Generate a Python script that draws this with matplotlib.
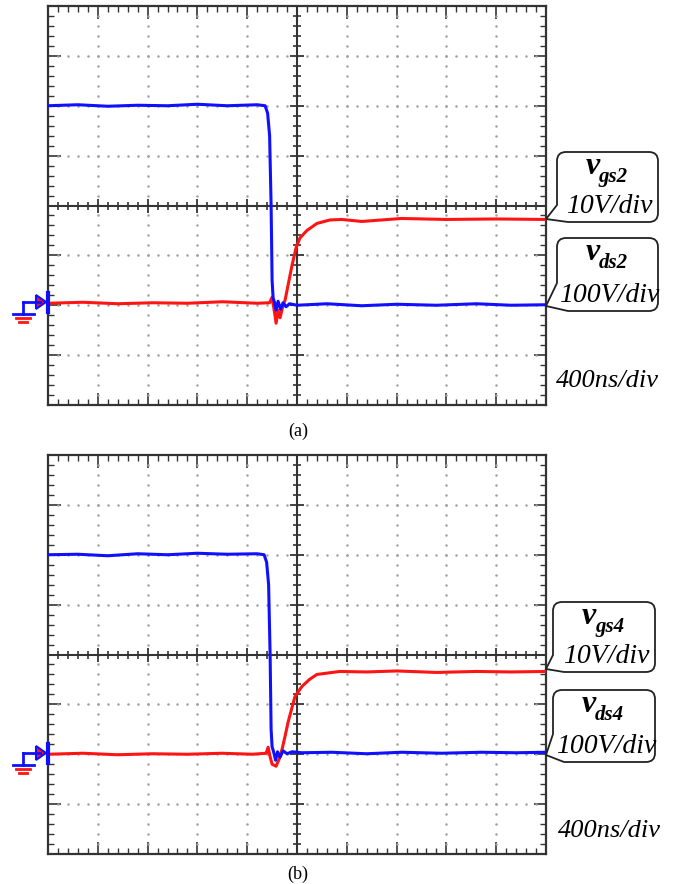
import numpy as np
import matplotlib.pyplot as plt
from matplotlib.path import Path
from matplotlib.patches import PathPatch, Polygon
from matplotlib.lines import Line2D

W, H = 685, 884
SERIF = 'Liberation Serif'
BLUE = '#1010ff'
RED = '#ff1414'

# time in divisions (400 ns/div), level in divisions from screen centre
t_vgs2 = [0, 0.6, 1.2, 1.8, 2.4, 3.0, 3.6, 4.2, 4.36, 4.41, 4.45, 4.48, 4.50, 4.52, 4.55, 4.58,
          4.62, 4.67, 4.72, 4.78, 4.85, 5.0, 5.6, 6.3, 7.0, 7.8, 8.6, 9.3, 10]
v_vgs2 = [2.0, 2.02, 1.99, 2.01, 2.0, 2.03, 2.0, 2.02, 2.0, 1.85, 1.4, 0.0, -1.5, -1.85, -1.95, -2.1,
          -1.92, -2.08, -1.95, -2.03, -1.97, -2.0, -1.97, -2.01, -1.98, -2.0, -1.97, -2.0, -1.99]
t_vds2 = [0, 0.7, 1.4, 2.1, 2.8, 3.5, 4.2, 4.45, 4.50, 4.55, 4.58, 4.62, 4.66, 4.72, 4.76, 4.82,
          4.90, 4.98, 5.06, 5.2, 5.4, 5.66, 5.9, 6.3, 7.1, 8.0, 9.0, 10]
v_vds2 = [-1.96, -1.94, -1.97, -1.95, -1.96, -1.93, -1.96, -1.95, -1.84, -2.15, -2.36, -2.1, -2.25,
          -2.0, -1.9, -1.6, -1.2, -0.85, -0.65, -0.5, -0.36, -0.29, -0.28, -0.32, -0.26, -0.28, -0.27, -0.28]

t_vgs4 = [0, 0.6, 1.2, 1.8, 2.4, 3.0, 3.6, 4.2, 4.34, 4.39, 4.43, 4.46, 4.48, 4.50, 4.53, 4.57,
          4.61, 4.66, 4.72, 4.80, 4.90, 5.1, 5.7, 6.4, 7.1, 7.9, 8.7, 9.4, 10]
v_vgs4 = [2.0, 2.01, 1.98, 2.02, 2.0, 2.03, 2.01, 2.02, 2.0, 1.85, 1.4, 0.0, -1.5, -1.85, -1.95, -2.12,
          -1.95, -2.06, -1.93, -1.99, -1.95, -1.97, -1.96, -1.99, -1.96, -1.98, -1.96, -1.97, -1.96]
t_vds4 = [0, 0.7, 1.4, 2.1, 2.8, 3.5, 4.1, 4.38, 4.42, 4.46, 4.50, 4.58, 4.64, 4.70, 4.76, 4.82,
          4.96, 5.1, 5.25, 5.4, 5.86, 6.4, 7.0, 7.8, 8.6, 9.3, 10]
v_vds4 = [-2.0, -1.98, -2.01, -1.99, -2.0, -1.98, -2.0, -1.98, -1.86, -2.05, -2.2, -2.24, -2.1, -1.9,
          -1.64, -1.36, -0.84, -0.64, -0.5, -0.4, -0.34, -0.35, -0.33, -0.36, -0.34, -0.35, -0.34]

panels = [
    dict(top=6, bottom=405, t_gs=t_vgs2, v_gs=v_vgs2, t_ds=t_vds2, v_ds=v_vds2, gnd=302,
         n='2', cap='(a)', cap_y=436, ns=(556, 387),
         box1=(557, 152, 658, 222, 219, 17), box2=(557, 238, 658, 311, 306, 28)),
    dict(top=455, bottom=854, t_gs=t_vgs4, v_gs=v_vgs4, t_ds=t_vds4, v_ds=v_vds4, gnd=753,
         n='4', cap='(b)', cap_y=879, ns=(558, 837),
         box1=(553, 602, 655, 672, 669, 17), box2=(553, 690, 655, 762, 755, 28)),
]

fig = plt.figure(figsize=(W / 100, H / 100), dpi=100)


def fx(x):
    return x / W


def fy(y):
    return 1 - y / H


def callout(x0, y0, x1, y1, tip_y, tail, r=9):
    pts = [(x0 + r, y0), (x1 - r, y0), (x1, y0), (x1, y0 + r), (x1, y1 - r), (x1, y1), (x1 - r, y1),
           (x0 + r + 2, y1), (546, tip_y), (x0, y1 - tail), (x0, y0 + r), (x0, y0), (x0 + r, y0),
           (x0 + r, y0)]
    codes = [Path.MOVETO, Path.LINETO, Path.CURVE3, Path.CURVE3, Path.LINETO, Path.CURVE3, Path.CURVE3,
             Path.LINETO, Path.LINETO, Path.LINETO, Path.LINETO, Path.CURVE3, Path.CURVE3, Path.CLOSEPOLY]
    verts = [(fx(a), fy(b)) for a, b in pts]
    fig.add_artist(PathPatch(Path(verts, codes), transform=fig.transFigure, facecolor='white',
                             edgecolor='#222222', lw=1.3))


def label(box, sub, scale):
    x0, y0, x1, y1 = box[:4]
    xc = (x0 + x1) / 2
    fig.text(fx(xc - 22), fy(y0 + 22), 'v', fontsize=23, family=SERIF, style='italic',
             weight='bold', va='baseline', ha='left')
    fig.text(fx(xc - 9), fy(y0 + 30), sub, fontsize=15, family=SERIF, style='italic',
             weight='bold', va='baseline', ha='left')
    fig.text(fx(xc + 2), fy(y1 - 9), scale, fontsize=20, family=SERIF, style='italic',
             va='baseline', ha='center')


def ground(y):
    blue_bits = [[(23, y), (40, y)], [(23, y), (23, y + 12)], [(13, y + 12), (34, y + 12)]]
    for seg in blue_bits:
        fig.add_artist(Line2D([fx(p[0]) for p in seg], [fy(p[1]) for p in seg],
                              transform=fig.transFigure, color=BLUE, lw=2))
    for dy, half in [(16, 7), (20, 4)]:
        fig.add_artist(Line2D([fx(23 - half), fx(23 + half)], [fy(y + dy), fy(y + dy)],
                              transform=fig.transFigure, color=RED, lw=2))
    fig.add_artist(Polygon([(fx(36), fy(y - 7)), (fx(46), fy(y)), (fx(36), fy(y + 7))],
                           closed=True, transform=fig.transFigure, facecolor=RED,
                           edgecolor=BLUE, lw=1.5))
    fig.add_artist(Line2D([fx(48), fx(48)], [fy(y - 9), fy(y + 10)],
                          transform=fig.transFigure, color=BLUE, lw=3))


for p in panels:
    ax = fig.add_axes([fx(48), fy(p['bottom']), 498 / W, (p['bottom'] - p['top']) / H])
    ax.set_xlim(0, 10)
    ax.set_ylim(-4, 4)
    ax.set_xticks(np.arange(0, 11, 1))
    ax.set_yticks(np.arange(-4, 5, 1))
    ax.set_xticks(np.arange(0, 10.01, 0.2), minor=True)
    ax.set_yticks(np.arange(-4, 4.01, 0.2), minor=True)
    ax.tick_params(which='both', direction='in', top=True, right=True,
                   labelbottom=False, labelleft=False, color='#333333')
    ax.tick_params(which='major', length=9, width=1.2)
    ax.tick_params(which='minor', length=4.5, width=1.0)
    for s in ax.spines.values():
        s.set_linewidth(1.6)
        s.set_color('#333333')

    # dotted graticule
    fine_x = np.arange(0.2, 10, 0.2)
    fine_y = np.arange(-3.8, 4, 0.2)
    for gx in [1, 2, 3, 4, 6, 7, 8, 9]:
        ax.plot(np.full(fine_y.size, gx), fine_y, ls='none', marker='.', ms=1.6, color='#a0a0a0')
    for gy in [-3, -2, -1, 1, 2, 3]:
        ax.plot(fine_x, np.full(fine_x.size, gy), ls='none', marker='.', ms=1.6, color='#a0a0a0')

    # centre cross with ticks
    ax.axhline(0, color='#333333', lw=1.5)
    ax.axvline(5, color='#333333', lw=1.5)
    minor_x = [v for v in fine_x if abs(v - round(v)) > 1e-6]
    minor_y = [v for v in fine_y if abs(v - round(v)) > 1e-6]
    ax.plot(minor_x, np.zeros(len(minor_x)), ls='none', marker='|', ms=6, mew=1.2, color='#333333')
    ax.plot(np.arange(1, 10), np.zeros(9), ls='none', marker='|', ms=10, mew=1.3, color='#333333')
    ax.plot(np.full(len(minor_y), 5), minor_y, ls='none', marker='_', ms=6, mew=1.2, color='#333333')
    ax.plot(np.full(7, 5), np.arange(-3, 4), ls='none', marker='_', ms=10, mew=1.3, color='#333333')

    ax.plot(p['t_ds'], p['v_ds'], color=RED, lw=2.2, zorder=5)
    ax.plot(p['t_gs'], p['v_gs'], color=BLUE, lw=2.2, zorder=6)

    b1, b2 = p['box1'], p['box2']
    callout(*b1)
    callout(*b2)
    label(b1, 'gs' + p['n'], '10V/div')
    label(b2, 'ds' + p['n'], '100V/div')
    ground(p['gnd'])

    fig.text(fx(p['ns'][0]), fy(p['ns'][1]), '400ns/div', fontsize=19, family=SERIF,
             style='italic', va='baseline', ha='left')
    fig.text(fx(298), fy(p['cap_y']), p['cap'], fontsize=13, family=SERIF,
             va='baseline', ha='center')

fig.savefig('out.png', dpi=100)
